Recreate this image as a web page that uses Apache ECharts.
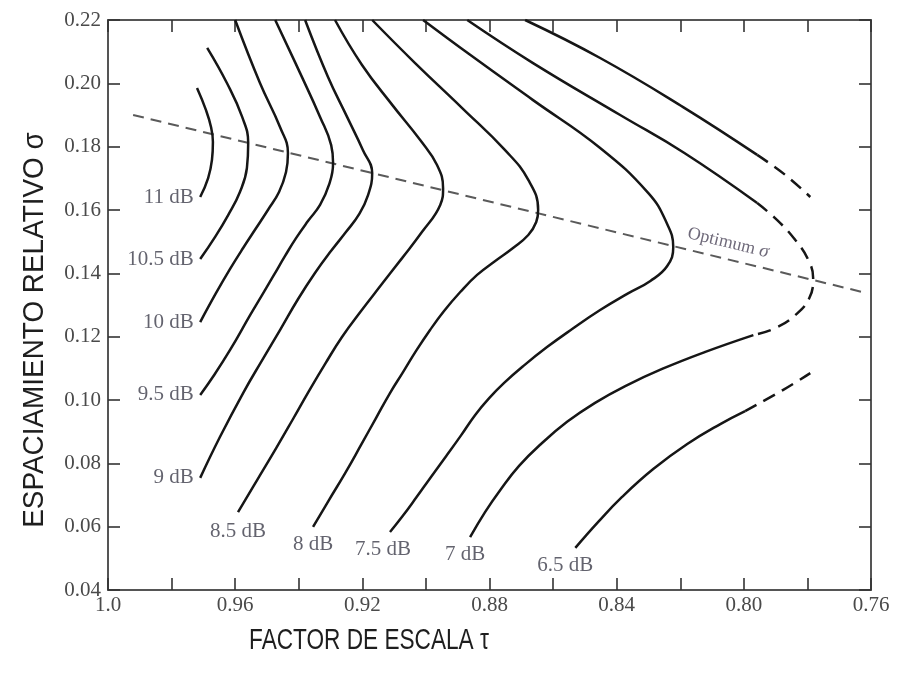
<!DOCTYPE html>
<html>
<head>
<meta charset="utf-8">
<script src="https://cdn.jsdelivr.net/npm/echarts@6/dist/echarts.min.js"></script>
<style>
html,body{margin:0;padding:0;background:#fff;}
#chart{width:897px;height:677px;}
</style>
</head>
<body>
<div id="chart"></div>
<script>
// ---- tick labels ----
const xLabelValues = [1.0, 0.96, 0.92, 0.88, 0.84, 0.80, 0.76];
const xLabelTexts = ['1.0', '0.96', '0.92', '0.88', '0.84', '0.80', '0.76'];
const yLabelValues = [0.04, 0.06, 0.08, 0.10, 0.12, 0.14, 0.16, 0.18, 0.20, 0.22];
const yLabelTexts = ['0.04', '0.06', '0.08', '0.10', '0.12', '0.14', '0.16', '0.18', '0.20', '0.22'];
const xTitle = 'FACTOR DE ESCALA τ';
const yTitle = 'ESPACIAMIENTO RELATIVO σ';

// ---- contour curves [tau, sigma] ----
const curve11 = [[0.972,0.1985],[0.9692,0.1916],[0.9676,0.1862],[0.967,0.1815],[0.9673,0.1758],[0.9685,0.1701],[0.971,0.1641]];
const curve105 = [[0.9688,0.2112],[0.9626,0.2001],[0.9578,0.1894],[0.9559,0.1812],[0.9563,0.1733],[0.9585,0.1657],[0.9622,0.1584],[0.9663,0.1515],[0.971,0.1445]];
const curve10 = [[0.96,0.22],[0.9522,0.2001],[0.9459,0.1862],[0.9434,0.178],[0.944,0.172],[0.9462,0.1657],[0.9497,0.16],[0.9534,0.1543],[0.9575,0.148],[0.9616,0.1414],[0.966,0.1338],[0.971,0.1246]];
const curve95 = [[0.9474,0.22],[0.9396,0.2033],[0.9333,0.1894],[0.9298,0.1805],[0.9292,0.1748],[0.9305,0.1679],[0.9333,0.1616],[0.9371,0.1565],[0.9408,0.1512],[0.9443,0.1455],[0.9478,0.1395],[0.9515,0.1332],[0.9553,0.1268],[0.9616,0.1158],[0.9666,0.1079],[0.971,0.1016]];
const curve9 = [[0.938,0.22],[0.9308,0.202],[0.9248,0.1894],[0.9198,0.1789],[0.9169,0.1717],[0.9182,0.1647],[0.921,0.1587],[0.9251,0.1531],[0.9298,0.1471],[0.9349,0.1401],[0.9402,0.1319],[0.9459,0.1221],[0.9515,0.1126],[0.9575,0.1022],[0.9648,0.0883],[0.971,0.0754]];
const curve85 = [[0.9286,0.22],[0.9201,0.2058],[0.9106,0.1932],[0.9018,0.1821],[0.8965,0.1742],[0.8946,0.1669],[0.8955,0.1616],[0.9012,0.1531],[0.9075,0.1448],[0.9141,0.1363],[0.9204,0.1281],[0.9264,0.1199],[0.9317,0.1114],[0.9368,0.1028],[0.9418,0.094],[0.9471,0.0848],[0.9531,0.0747],[0.9591,0.0646]];
const curve8 = [[0.9169,0.22],[0.9034,0.2064],[0.8886,0.1922],[0.8751,0.1789],[0.8678,0.1695],[0.8647,0.16],[0.8653,0.1562],[0.8678,0.1521],[0.8726,0.148],[0.8782,0.1439],[0.8839,0.1395],[0.8892,0.1341],[0.8943,0.1281],[0.8987,0.1221],[0.9031,0.1155],[0.9072,0.1088],[0.9113,0.1022],[0.9157,0.0943],[0.9204,0.0858],[0.9254,0.0769],[0.9305,0.0684],[0.9355,0.0599]];
const curve75 = [[0.9009,0.22],[0.8861,0.209],[0.8663,0.1947],[0.8452,0.1796],[0.8301,0.1654],[0.8244,0.1562],[0.8222,0.1483],[0.8241,0.1423],[0.8294,0.1376],[0.8367,0.1335],[0.8452,0.1284],[0.854,0.1224],[0.8619,0.1167],[0.8694,0.1107],[0.8754,0.1054],[0.8801,0.1006],[0.8845,0.0953],[0.8889,0.0889],[0.8936,0.0823],[0.8984,0.0757],[0.9031,0.0691],[0.9075,0.0631],[0.9113,0.0583]];
const curve7Upper = [[0.887,0.22],[0.8663,0.2064],[0.8389,0.19],[0.8187,0.178],[0.7958,0.1622]];
const curve7Nose = [[0.7958,0.1622],[0.7895,0.1568],[0.7838,0.1505],[0.7797,0.1442],[0.7782,0.1385],[0.7794,0.1322],[0.7838,0.1268],[0.7901,0.1227],[0.797,0.1205]];
const curve7Lower = [[0.797,0.1205],[0.8121,0.1152],[0.8257,0.1098],[0.8373,0.1044],[0.8468,0.0991],[0.8556,0.0931],[0.8638,0.0861],[0.8707,0.0792],[0.8766,0.0716],[0.8814,0.0646],[0.8861,0.0567]];
const curve65Upper = [[0.8688,0.22],[0.8452,0.208],[0.8191,0.1925],[0.7958,0.1774]];
const curve65UpperDash = [[0.7958,0.1774],[0.787,0.1711],[0.7791,0.1641]];
const curve65Lower = [[0.853,0.0533],[0.8458,0.0615],[0.8383,0.0694],[0.8285,0.0782],[0.8178,0.0861],[0.8074,0.0924],[0.7996,0.0965]];
const curve65LowerDash = [[0.7996,0.0965],[0.7876,0.1032],[0.7791,0.1085]];
const optimumLine = [[0.9921,0.19],[0.7627,0.1341]];

// ---- curve labels ----
const curveLabels = ['11 dB','10.5 dB','10 dB','9.5 dB','9 dB','8.5 dB','8 dB','7.5 dB','7 dB','6.5 dB'];
const optimumLabel = 'Optimum σ';
const optimumLabelAnchor = [0.8049, 0.1496];

const SERIF = '"Liberation Serif", "Times New Roman", serif';
const SANS = '"Liberation Sans", Arial, sans-serif';
const LINE = '#161616';

function solid(data) {
  return { type: 'line', data: data, smooth: 0.45, symbol: 'none', silent: true,
    lineStyle: { color: LINE, width: 2.5 }, z: 3 };
}
function dashed(data) {
  return { type: 'line', data: data, smooth: 0.45, symbol: 'none', silent: true,
    lineStyle: { color: LINE, width: 2.5, type: [13, 8] }, z: 3 };
}

const labelAnchors = [
  { p: curve11[curve11.length-1], pos: 'left', off: [0,0] },
  { p: curve105[curve105.length-1], pos: 'left', off: [0,0] },
  { p: curve10[curve10.length-1], pos: 'left', off: [0,0] },
  { p: curve95[curve95.length-1], pos: 'left', off: [0,0] },
  { p: curve9[curve9.length-1], pos: 'left', off: [0,0] },
  { p: curve85[curve85.length-1], pos: 'bottom', off: [0,2] },
  { p: curve8[curve8.length-1], pos: 'bottom', off: [0,1] },
  { p: curve75[curve75.length-1], pos: 'bottom', off: [-7,0] },
  { p: curve7Lower[curve7Lower.length-1], pos: 'bottom', off: [-5,0] },
  { p: curve65Lower[0], pos: 'bottom', off: [-10,1] }
];

const labelData = labelAnchors.map((a, i) => ({
  value: a.p, name: curveLabels[i],
  label: { position: a.pos, offset: a.off, distance: 6 }
}));

const chart = echarts.init(document.getElementById('chart'), null, { renderer: 'canvas' });

const axisCommonX = {
  type: 'value', min: 0.76, max: 1.0, interval: 0.02, inverse: true,
  splitLine: { show: false },
  axisLine: { show: true, onZero: false, lineStyle: { color: '#555', width: 2 } },
  axisTick: { show: true, inside: true, length: 12, lineStyle: { color: '#333', width: 1.6 } }
};
const axisCommonY = {
  type: 'value', min: 0.04, max: 0.22, interval: 0.02,
  splitLine: { show: false },
  axisLine: { show: true, onZero: false, lineStyle: { color: '#555', width: 2 } },
  axisTick: { show: true, inside: true, length: 12, lineStyle: { color: '#333', width: 1.6 } }
};

const option = {
  backgroundColor: '#ffffff',
  animation: false,
  grid: { left: 108, right: 26, top: 20, bottom: 87, containLabel: false },
  xAxis: [
    Object.assign({}, axisCommonX, {
      position: 'bottom',
      axisLabel: {
        margin: 5, color: '#4a4a4a', fontFamily: SERIF, fontSize: 21,
        formatter: function (v) {
          const i = xLabelValues.findIndex(t => Math.abs(t - v) < 1e-6);
          return i >= 0 ? xLabelTexts[i] : '';
        }
      }
    }),
    Object.assign({}, axisCommonX, { position: 'top', axisLabel: { show: false } })
  ],
  yAxis: [
    Object.assign({}, axisCommonY, {
      position: 'left',
      axisLabel: {
        margin: 7, color: '#4a4a4a', fontFamily: SERIF, fontSize: 21,
        formatter: function (v) {
          const i = yLabelValues.findIndex(t => Math.abs(t - v) < 1e-6);
          return i >= 0 ? yLabelTexts[i] : '';
        }
      }
    }),
    Object.assign({}, axisCommonY, { position: 'right', axisLabel: { show: false } })
  ],
  graphic: [
    {
      type: 'text', x: 369, y: 641, scaleX: 0.78, silent: true,
      style: { text: xTitle, font: '29px ' + SANS, fill: '#1e1e1e',
        textAlign: 'center', textVerticalAlign: 'middle', align: 'center', verticalAlign: 'middle' }
    },
    {
      type: 'text', x: 35, y: 330, rotation: Math.PI / 2, scaleX: 0.93, silent: true,
      style: { text: yTitle, font: '30px ' + SANS, fill: '#1e1e1e',
        textAlign: 'center', textVerticalAlign: 'middle', align: 'center', verticalAlign: 'middle' }
    }
  ],
  series: [
    solid(curve11), solid(curve105), solid(curve10), solid(curve95), solid(curve9),
    solid(curve85), solid(curve8), solid(curve75),
    solid(curve7Upper), dashed(curve7Nose), solid(curve7Lower),
    solid(curve65Upper), dashed(curve65UpperDash), solid(curve65Lower), dashed(curve65LowerDash),
    {
      type: 'line', data: optimumLine, symbol: 'none', silent: true, z: 2,
      lineStyle: { color: '#5a5a5a', width: 2, type: [11, 7] }
    },
    {
      type: 'scatter', data: labelData, symbolSize: 1, silent: true, z: 5,
      itemStyle: { color: 'rgba(0,0,0,0)' },
      label: { show: true, formatter: '{b}', fontFamily: SERIF, fontSize: 21, color: '#3c3c4a' }
    },
    {
      type: 'scatter', data: [{ value: optimumLabelAnchor, name: optimumLabel }], symbolSize: 1, silent: true, z: 5,
      itemStyle: { color: 'rgba(0,0,0,0)' },
      label: {
        show: true, position: 'inside', rotate: -13.6,
        formatter: 'Optimum {s|σ}', fontFamily: SERIF, fontSize: 18, color: '#4a4458',
        rich: { s: { fontFamily: SERIF, fontSize: 19, fontStyle: 'italic', color: '#4a4458' } }
      }
    }
  ]
};
chart.setOption(option);
</script>
</body>
</html>
